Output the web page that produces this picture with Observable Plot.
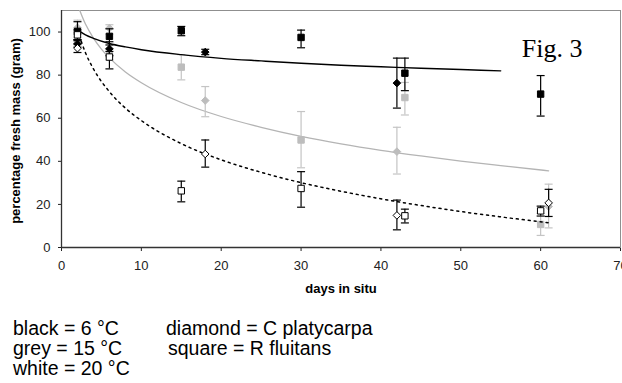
<!DOCTYPE html>
<html><head><meta charset="utf-8">
<script src="https://cdn.jsdelivr.net/npm/d3@7"></script>
<script src="https://cdn.jsdelivr.net/npm/@observablehq/plot@0.6"></script>
<style>
body{margin:0;background:#fff;font-family:"Liberation Sans",Arial,sans-serif;}
#wrap{position:relative;width:622px;height:383px;overflow:hidden;}
.lg{position:absolute;font-size:19.5px;line-height:20px;color:#000;white-space:nowrap;}
</style></head><body><div id="wrap"></div>
<script>
// ---- axis ticks ----
const xTicks = [0, 10, 20, 30, 40, 50, 60, 70];
const yTicks = [0, 20, 40, 60, 80, 100];

// ---- black = 6 °C ----
const rf6Days = [2, 6, 15, 30, 43, 60];
const rf6Mean = [100.3, 98, 100.6, 97.5, 80.9, 71.2];
const rf6Low  = [96.5, 94, 98.3, 92.7, 72.8, 61];
const rf6High = [104.8, 101.5, 102.6, 100.9, 87.9, 79.8];

const cp6Days = [2, 6, 18, 42];
const cp6Mean = [94.5, 92.2, 90.7, 76.3];
const cp6Low  = [93, 89, 89.5, 64.7];
const cp6High = [96.5, 95.5, 92, 87.9];

// ---- grey = 15 °C ----
const rf15Days = [2, 6, 15, 30, 43, 60];
const rf15Mean = [96.5, 89.5, 83.7, 49.9, 69.6, 10.7];
const rf15Low  = [94, 87, 77.8, 37, 61.5, 5.6];
const rf15High = [99, 92, 89.5, 63.1, 76.6, 15.8];

const cp15Days = [2, 6, 18, 42, 61];
const cp15Mean = [102, 101.8, 68.2, 44.5, 19];
const cp15Low  = [100, 99, 60.7, 34.1, 9.1];
const cp15High = [105.5, 103.4, 74.7, 55.8, 29.4];

// ---- white = 20 °C ----
const rf20Days = [2, 6, 15, 30, 43, 60];
const rf20Mean = [98.7, 88.4, 26.3, 27.4, 14.7, 17];
const rf20Low  = [96, 82.9, 21.2, 18.7, 11.4, 14.6];
const rf20High = [101, 91, 30.8, 35.2, 17.8, 19.2];

const cp20Days = [2, 18, 42, 61];
const cp20Mean = [92.5, 43.4, 14.9, 20.7];
const cp20Low  = [90.5, 37.3, 8.2, 14.4];
const cp20High = [94.5, 49.9, 22, 27];

// ---- trend lines ----
const trend6Days = [2, 3, 4, 6, 8, 10, 15, 20, 25, 30, 35, 40, 45, 50, 55];
const trend6Vals = [101, 98.7, 97.1, 94.7, 93.1, 91.8, 89.5, 87.8, 86.6, 85.5, 84.6, 83.9, 83.2, 82.6, 82];

const trend15Days = [2, 3, 4, 5, 6, 8, 10, 15, 20, 25, 30, 35, 40, 45, 50, 55, 61];
const trend15Vals = [112.8, 103.7, 97.2, 92.1, 88, 81.5, 76.5, 67.3, 60.8, 55.8, 51.6, 48.1, 45.1, 42.5, 40.1, 38, 35.6];

const trend20Days = [2, 3, 4, 6, 8, 10, 15, 20, 25, 30, 35, 40, 45, 50, 55, 61];
const trend20Vals = [101, 90.4, 82.9, 72.3, 64.7, 58.9, 48.2, 40.7, 34.9, 30.1, 26.1, 22.6, 19.5, 16.7, 14.2, 11.5];

// ---- build tables ----
const rows = (days, mean, low, high) => days.map((d, i) => ({day: d, mean: mean[i], low: low[i], high: high[i]}));
const pts = (days, vals) => days.map((d, i) => ({day: d, v: vals[i]}));

const BLACK = "#000", GREY = "#bdbdbd", GREYBAR = "#c4c4c4", GREYLINE = "#b4b4b4";

const squareSym = {draw(ctx) { const s = 3.2; ctx.moveTo(-s, -s); ctx.lineTo(s, -s); ctx.lineTo(s, s); ctx.lineTo(-s, s); ctx.closePath(); }};
const diamondSym = {draw(ctx) { const s = 3.8; ctx.moveTo(0, -s); ctx.lineTo(s, 0); ctx.lineTo(0, s); ctx.lineTo(-s, 0); ctx.closePath(); }};
const capSym = {draw(ctx) { ctx.moveTo(-4, 0); ctx.lineTo(4, 0); }};

function seriesMarks(data, bar) {
  return [
    Plot.ruleX(data, {x: "day", y1: "low", y2: "high", stroke: bar, strokeWidth: 1.2}),
    Plot.dot(data, {x: "day", y: "low", symbol: capSym, fill: "none", stroke: bar, strokeWidth: 1.2}),
    Plot.dot(data, {x: "day", y: "high", symbol: capSym, fill: "none", stroke: bar, strokeWidth: 1.2}),
  ];
}
function markerMarks(data, sym, fill, stroke) {
  return Plot.dot(data, {x: "day", y: "mean", symbol: sym, fill, stroke, strokeWidth: 1});
}

const rf6 = rows(rf6Days, rf6Mean, rf6Low, rf6High);
const cp6 = rows(cp6Days, cp6Mean, cp6Low, cp6High);
const rf15 = rows(rf15Days, rf15Mean, rf15Low, rf15High);
const cp15 = rows(cp15Days, cp15Mean, cp15Low, cp15High);
const rf20 = rows(rf20Days, rf20Mean, rf20Low, rf20High);
const cp20 = rows(cp20Days, cp20Mean, cp20Low, cp20High);

const chart = Plot.plot({
  width: 622,
  height: 305,
  marginLeft: 61,
  marginRight: 2,
  marginTop: 10,
  marginBottom: 58,
  style: {fontFamily: '"Liberation Sans", Arial, sans-serif', fontSize: "13px", color: "#222", background: "#fff"},
  x: {domain: [0, 70], ticks: xTicks, tickSize: 4, tickPadding: 9, label: null},
  y: {domain: [0, 110], ticks: yTicks, tickSize: 3, tickPadding: 8, label: null},
  marks: [
    Plot.frame({stroke: "#8f8f8f"}),
    // grey series
    Plot.line(pts(trend15Days, trend15Vals), {x: "day", y: "v", stroke: GREYLINE, strokeWidth: 1.3, curve: "monotone-x", clip: true}),
    ...seriesMarks(rf15, GREYBAR),
    ...seriesMarks(cp15, GREYBAR),
    markerMarks(rf15, squareSym, GREY, GREY),
    markerMarks(cp15, diamondSym, GREY, GREY),
    // black & white lines
    Plot.line(pts(trend6Days, trend6Vals), {x: "day", y: "v", stroke: BLACK, strokeWidth: 1.4, curve: "monotone-x"}),
    Plot.line(pts(trend20Days, trend20Vals), {x: "day", y: "v", stroke: BLACK, strokeWidth: 1.5, strokeDasharray: "2,4", curve: "monotone-x"}),
    // error bars
    ...seriesMarks(rf6, BLACK),
    ...seriesMarks(cp6, BLACK),
    ...seriesMarks(rf20, BLACK),
    ...seriesMarks(cp20, BLACK),
    // markers
    markerMarks(rf6, squareSym, BLACK, BLACK),
    markerMarks(cp6, diamondSym, BLACK, BLACK),
    markerMarks(rf20, squareSym, "#fff", BLACK),
    markerMarks(cp20, diamondSym, "#fff", BLACK),
    // axes lines
    Plot.ruleX([0], {stroke: "#333", strokeWidth: 1.3}),
    Plot.ruleY([0], {stroke: "#333", strokeWidth: 1.3}),
    // texts
    Plot.text(["Fig. 3"], {frameAnchor: "top-right", text: d => d, dx: -38, dy: 38, textAnchor: "end", lineAnchor: "middle", fontFamily: '"Liberation Serif", "Times New Roman", serif', fontSize: 26, fill: "#000"}),
    Plot.text(["percentage fresh mass (gram)"], {frameAnchor: "left", text: d => d, dx: -46, dy: 2, rotate: -90, textAnchor: "middle", lineAnchor: "middle", fontWeight: "bold", fontSize: 13, fill: "#000"}),
    Plot.text(["days in situ"], {frameAnchor: "bottom", text: d => d, dy: 45, textAnchor: "middle", fontWeight: "bold", fontSize: 13, fill: "#000"})
  ]
});

const wrap = document.getElementById("wrap");
wrap.appendChild(chart);

const legendItems = [
  ["black = 6 °C", 13, 318],
  ["grey = 15 °C", 13, 338],
  ["white = 20 °C", 13, 358],
  ["diamond = C platycarpa", 166, 318],
  ["square = R fluitans", 168, 338]
];
for (const [t, l, tp] of legendItems) {
  const d = document.createElement("div");
  d.className = "lg";
  d.textContent = t;
  d.style.left = l + "px";
  d.style.top = tp + "px";
  wrap.appendChild(d);
}
</script>
</body></html>
